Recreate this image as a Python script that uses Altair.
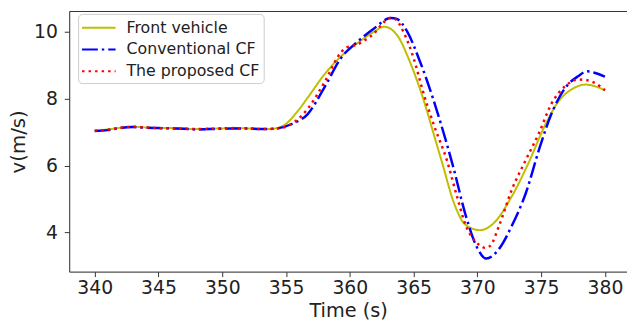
import altair as alt
import pandas as pd

series_names = ["Front vehicle", "Conventional CF", "The proposed CF"]
series_colors = ["#bfbf00", "#0000ff", "#ff0000"]
x_ticks = [340, 345, 350, 355, 360, 365, 370, 375, 380]
y_ticks = [4, 6, 8, 10]

front_t = [340, 341, 342, 343, 344, 345, 346, 347, 348, 349, 350, 351, 352, 353, 354, 354.4, 355, 355.9,
           356.7, 358.0, 359.3, 360.6, 361.9, 362.7, 363.7, 364.7, 365.8, 366.7, 367.3, 368.1, 369.1,
           370.2, 371.2, 372.7, 374.0, 375.3, 376.4, 377.4, 378.5, 379.3, 380]
front_v = [7.05, 7.08, 7.13, 7.16, 7.14, 7.12, 7.12, 7.10, 7.09, 7.10, 7.11, 7.12, 7.11, 7.09, 7.10, 7.13, 7.25, 7.62,
           8.03, 8.72, 9.26, 9.66, 10.0, 10.15, 9.90, 9.11, 7.94, 6.78, 6.0, 4.95, 4.22,
           4.07, 4.25, 5.08, 6.07, 7.2, 7.94, 8.28, 8.42, 8.36, 8.25]

conv_t = [340, 341, 342, 343, 344, 345, 346, 347, 348, 349, 350, 351, 352, 353, 354, 355.5, 356.7,
          358.0, 359.3, 360.6, 361.9, 363.2, 363.7, 364.5, 365.5, 366.5, 367.1, 368.1, 369.1, 369.9,
          370.7, 371.7, 372.7, 373.8, 374.9, 375.8, 376.9, 377.9, 378.6, 379.3, 380]
conv_v = [7.03, 7.06, 7.12, 7.15, 7.13, 7.12, 7.11, 7.10, 7.08, 7.09, 7.10, 7.11, 7.11, 7.09, 7.10, 7.25, 7.54,
          8.33, 9.21, 9.70, 10.1, 10.41, 10.38, 10.0, 9.11, 8.03, 7.3, 5.97, 4.49, 3.61,
          3.22, 3.51, 4.2, 5.18, 6.56, 7.54, 8.33, 8.67, 8.82, 8.76, 8.66]

prop_t = [340, 341, 342, 343, 344, 345, 346, 347, 348, 349, 350, 351, 352, 353, 354, 354.9, 356.7,
          358.0, 359.3, 359.7, 360.6, 361.2, 361.9, 362.5, 363.1, 363.5, 364.2, 365.0, 365.8, 366.6,
          367.6, 368.4, 369.1, 369.7, 370.2, 370.6, 371.0, 371.7, 372.7, 373.8, 374.8, 375.8, 376.9,
          377.9, 378.6, 379.3, 380]
prop_v = [7.04, 7.07, 7.13, 7.16, 7.14, 7.12, 7.11, 7.10, 7.09, 7.10, 7.11, 7.12, 7.11, 7.09, 7.10, 7.15, 7.7,
          8.48, 9.38, 9.52, 9.62, 9.75, 9.95, 10.22, 10.41, 10.39, 10.0, 9.21, 8.13, 7.2,
          6.17, 5.08, 4.2, 3.8, 3.61, 3.54, 3.6, 4.2, 5.28, 6.17, 6.95, 7.84, 8.38,
          8.57, 8.55, 8.45, 8.25]

frames = []
for name, ts, vs in [(series_names[0], front_t, front_v),
                     (series_names[1], conv_t, conv_v),
                     (series_names[2], prop_t, prop_v)]:
    frames.append(pd.DataFrame({"t": ts, "v": vs, "series": name}))
df = pd.concat(frames, ignore_index=True)

font = "DejaVu Sans"
xscale = alt.Scale(domain=[338, 381.73], nice=False, zero=False)
yscale = alt.Scale(domain=[2.83, 10.62], nice=False, zero=False)

color = alt.Color("series:N", scale=alt.Scale(domain=series_names, range=series_colors),
                  legend=alt.Legend(title=None, orient="none", legendX=9, legendY=3,
                                    symbolType="M-2,0H2", symbolSize=289, symbolStrokeWidth=2.2,
                                    symbolOffset=7,
                                    labelFont=font, labelFontSize=16, labelColor="#222222",
                                    labelOffset=18, padding=4, rowPadding=4,
                                    fillColor="white", strokeColor="#cccccc", cornerRadius=4))
dash = alt.StrokeDash("series:N", scale=alt.Scale(domain=series_names,
                                                  range=[[1, 0], [16, 4, 2.5, 4], [2.5, 4.1]]))

xaxis = alt.Axis(values=x_ticks, format="d", title="Time (s)", grid=False,
                 labelFont=font, labelFontSize=19, labelColor="#222222", labelPadding=2,
                 titleFont=font, titleFontSize=19.5, titleFontWeight="normal", titleColor="#222222",
                 titlePadding=4, tickSize=5, tickColor="#333333", domainColor="#333333")
yaxis = alt.Axis(values=y_ticks, title="v(m/s)", grid=False,
                 labelFont=font, labelFontSize=19, labelColor="#222222", labelPadding=7,
                 titleFont=font, titleFontSize=20, titleFontWeight="normal", titleColor="#222222",
                 titlePadding=5, tickSize=5, tickColor="#333333", domainColor="#333333")

widths = [2.0, 2.5, 2.5]
layers = []
for name, w in zip(series_names, widths):
    layers.append(
        alt.Chart(df).transform_filter(alt.datum.series == name)
        .mark_line(interpolate="monotone", strokeWidth=w)
        .encode(x=alt.X("t:Q", scale=xscale, axis=xaxis),
                y=alt.Y("v:Q", scale=yscale, axis=yaxis),
                color=color, strokeDash=dash)
    )

data_layer = alt.layer(*layers)

top_border = (
    alt.Chart(df).transform_filter(alt.datum.series == series_names[0])
    .mark_line(opacity=0)
    .encode(x=alt.X("t:Q", scale=xscale,
                    axis=alt.Axis(orient="top", labels=False, ticks=False, grid=False,
                                  title=None, domainColor="#333333")),
            y=alt.Y("v:Q", scale=yscale, axis=None))
)

chart = (
    alt.layer(data_layer, top_border)
    .resolve_axis(x="independent", y="independent")
    .properties(width=565, height=264,
                padding={"left": 62, "top": 1, "right": 0, "bottom": 50},
                autosize=alt.AutoSizeParams(type="none"))
    .configure_view(stroke=None)
    .configure(background="white")
)

chart.save("out.html", embed_options={"renderer": "svg", "actions": False})
